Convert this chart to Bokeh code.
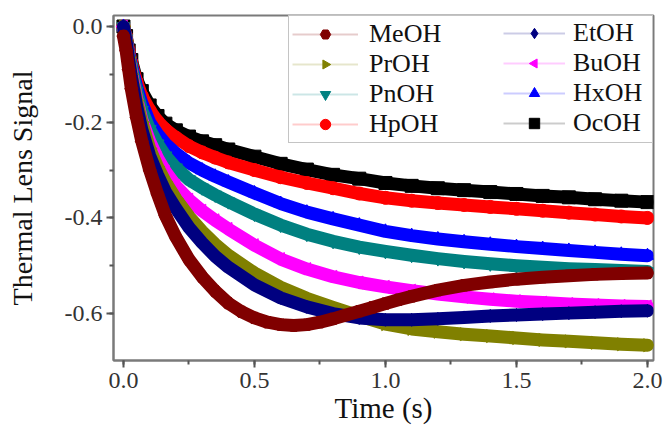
from bokeh.plotting import figure
from bokeh.models import Range1d, SingleIntervalTicker, PrintfTickFormatter, Legend, LegendItem
from bokeh.embed import file_html
from bokeh.resources import INLINE
import math

# ---- data (time in s, thermal lens signal) ----
time_s = [0.0, 0.01, 0.02, 0.03, 0.05, 0.07, 0.1, 0.13, 0.16, 0.2, 0.25, 0.3, 0.35, 0.4,
          0.5, 0.6, 0.7, 0.8, 0.9, 1.0, 1.1, 1.2, 1.3, 1.4, 1.5, 1.6, 1.7, 1.8, 1.9, 2.0]

meoh_time = [0.0, 0.01, 0.02, 0.03, 0.05, 0.07, 0.1, 0.13, 0.16, 0.2, 0.25, 0.3, 0.35, 0.4, 0.45,
             0.5, 0.55, 0.6, 0.65, 0.7, 0.75, 0.8, 0.85, 0.9, 0.95, 1.0, 1.05, 1.1, 1.2, 1.3, 1.4,
             1.5, 1.6, 1.7, 1.8, 1.9, 2.0]
meoh = [-0.02, -0.05, -0.09, -0.13, -0.19, -0.24, -0.30, -0.35, -0.395, -0.44, -0.487, -0.523, -0.553, -0.578, -0.596,
        -0.609, -0.618, -0.623, -0.625, -0.623, -0.618, -0.611, -0.603, -0.595, -0.587, -0.579, -0.571, -0.564, -0.551, -0.541, -0.534,
        -0.528, -0.524, -0.521, -0.518, -0.516, -0.515]
etoh = [0.0, -0.03, -0.07, -0.105, -0.165, -0.215, -0.27, -0.31, -0.345, -0.38, -0.42, -0.452, -0.48, -0.503,
        -0.54, -0.567, -0.586, -0.6, -0.609, -0.613, -0.613, -0.611, -0.608, -0.605, -0.603, -0.601, -0.599, -0.597, -0.595, -0.594]
proh = [0.0, -0.03, -0.065, -0.1, -0.155, -0.2, -0.255, -0.293, -0.325, -0.36, -0.397, -0.428, -0.455, -0.478,
        -0.515, -0.545, -0.568, -0.587, -0.605, -0.622, -0.632, -0.638, -0.643, -0.647, -0.651, -0.655, -0.658, -0.661, -0.664, -0.666]
buoh = [0.0, -0.03, -0.065, -0.095, -0.15, -0.195, -0.24, -0.275, -0.303, -0.333, -0.362, -0.385, -0.405, -0.423,
        -0.457, -0.486, -0.507, -0.523, -0.535, -0.544, -0.552, -0.559, -0.565, -0.57, -0.574, -0.577, -0.58, -0.582, -0.584, -0.585]
pnoh = [0.0, -0.025, -0.06, -0.085, -0.135, -0.175, -0.215, -0.245, -0.27, -0.295, -0.32, -0.337, -0.352, -0.366,
        -0.392, -0.415, -0.434, -0.449, -0.461, -0.47, -0.478, -0.485, -0.491, -0.496, -0.5, -0.503, -0.506, -0.508, -0.51, -0.512]
hxoh = [0.0, -0.025, -0.055, -0.08, -0.125, -0.16, -0.2, -0.225, -0.245, -0.265, -0.285, -0.3, -0.313, -0.325,
        -0.348, -0.37, -0.388, -0.402, -0.415, -0.428, -0.437, -0.444, -0.45, -0.455, -0.46, -0.464, -0.468, -0.472, -0.476, -0.479]
hpoh = [0.0, -0.02, -0.05, -0.075, -0.115, -0.145, -0.175, -0.198, -0.215, -0.232, -0.25, -0.263, -0.274, -0.284,
        -0.3, -0.315, -0.327, -0.338, -0.349, -0.358, -0.364, -0.369, -0.373, -0.377, -0.381, -0.385, -0.389, -0.393, -0.397, -0.40]
ocoh = [0.0, -0.02, -0.05, -0.07, -0.11, -0.135, -0.165, -0.187, -0.203, -0.217, -0.23, -0.24, -0.248, -0.257,
        -0.272, -0.287, -0.299, -0.31, -0.318, -0.327, -0.333, -0.338, -0.342, -0.346, -0.35, -0.354, -0.357, -0.361, -0.364, -0.367]

series_names = ["MeOH", "EtOH", "PrOH", "BuOH", "PnOH", "HxOH", "HpOH", "OcOH"]
series_times = [meoh_time, time_s, time_s, time_s, time_s, time_s, time_s, time_s]
series_values = [meoh, etoh, proh, buoh, pnoh, hxoh, hpoh, ocoh]
series_colors = ["#800000", "#000080", "#808000", "#ff00ff", "#008080", "#0000ff", "#ff0000", "#000000"]
series_markers = ["hex", "diamond", "triangle", "triangle", "inverted_triangle", "triangle", "circle", "square"]
series_angles = [0.0, 0.0, -math.pi / 2, math.pi / 2, 0.0, 0.0, 0.0, 0.0]

legend_col1 = ["MeOH", "PrOH", "PnOH", "HpOH"]
legend_col2 = ["EtOH", "BuOH", "HxOH", "OcOH"]

x_axis_label = "Time (s)"
y_axis_label = "Thermal Lens Signal"

SERIF = "Liberation Serif"
NAN = float("nan")

p = figure(width=669, height=429, output_backend="svg", toolbar_location=None,
           x_range=Range1d(-0.038, 2.023), y_range=Range1d(-0.698, 0.023),
           min_border_left=113, min_border_right=16, min_border_top=15, min_border_bottom=69)
p.grid.visible = False
p.background_fill_color = "white"
p.border_fill_color = "white"
p.outline_line_color = "#7a7a7a"
p.outline_line_width = 2

# draw in reverse order so MeOH ends up on top
for name, ts, vals, col, mk, ang in reversed(list(zip(series_names, series_times, series_values,
                                                       series_colors, series_markers, series_angles))):
    p.line(ts, vals, line_color=col, line_width=13, line_join="round", line_cap="round")
    p.scatter(ts, vals, marker=mk, angle=ang, size=13, fill_color=col, line_color=col)

# legend-only renderers (no visible data)
items = {}
for name, col, mk, ang in zip(series_names, series_colors, series_markers, series_angles):
    lr = p.line([NAN], [NAN], line_color=col, line_alpha=0.2, line_width=2)
    if ang != 0.0 and hasattr(p, "ngon"):
        sr = p.ngon([NAN], [NAN], radius=6, radius_units="screen", n=3, angle=ang,
                    fill_color=col, line_color=col)
    else:
        sr = p.scatter([NAN], [NAN], marker=mk, angle=ang, size=11, fill_color=col, line_color=col)
    items[name] = LegendItem(label=name, renderers=[lr, sr])

common = dict(location="top_right", label_text_font=SERIF, label_text_font_size="26px",
              label_text_color="#111111", glyph_height=26, padding=3, spacing=0, margin=0)

legend1 = Legend(items=[items[n] for n in legend_col1],
                 border_line_color="#8a8a8a", border_line_width=1, background_fill_color="white",
                 background_fill_alpha=1.0, glyph_width=66, label_standoff=11, label_width=280, **common)
legend2 = Legend(items=[items[n] for n in legend_col2],
                 border_line_alpha=0.0, background_fill_alpha=0.0,
                 glyph_width=62, label_standoff=8, label_width=77, **common)
p.add_layout(legend1, "center")
p.add_layout(legend2, "center")

for ax in (p.xaxis[0], p.yaxis[0]):
    ax.axis_line_color = "#7a7a7a"
    ax.axis_line_width = 2
    ax.major_tick_line_color = "#555555"
    ax.minor_tick_line_color = "#555555"
    ax.major_tick_line_width = 2
    ax.minor_tick_line_width = 2
    ax.major_tick_out = 7
    ax.major_tick_in = 0
    ax.minor_tick_out = 4
    ax.minor_tick_in = 0
    ax.major_label_text_font = SERIF
    ax.major_label_text_font_size = "24px"
    ax.major_label_text_color = "#333333"
    ax.axis_label_text_font = SERIF
    ax.axis_label_text_font_style = "normal"
    ax.axis_label_text_color = "#111111"
    ax.formatter = PrintfTickFormatter(format="%.1f")

p.xaxis[0].ticker = SingleIntervalTicker(interval=0.5, num_minor_ticks=2)
p.yaxis[0].ticker = SingleIntervalTicker(interval=0.2, num_minor_ticks=2)
p.xaxis[0].axis_label = x_axis_label
p.yaxis[0].axis_label = y_axis_label
p.xaxis[0].axis_label_text_font_size = "29px"
p.yaxis[0].axis_label_text_font_size = "28px"
p.xaxis[0].major_label_standoff = 5
p.xaxis[0].axis_label_standoff = 1
p.yaxis[0].major_label_standoff = 4
p.yaxis[0].axis_label_standoff = 24

open("out.html", "w").write(file_html(p, INLINE))
